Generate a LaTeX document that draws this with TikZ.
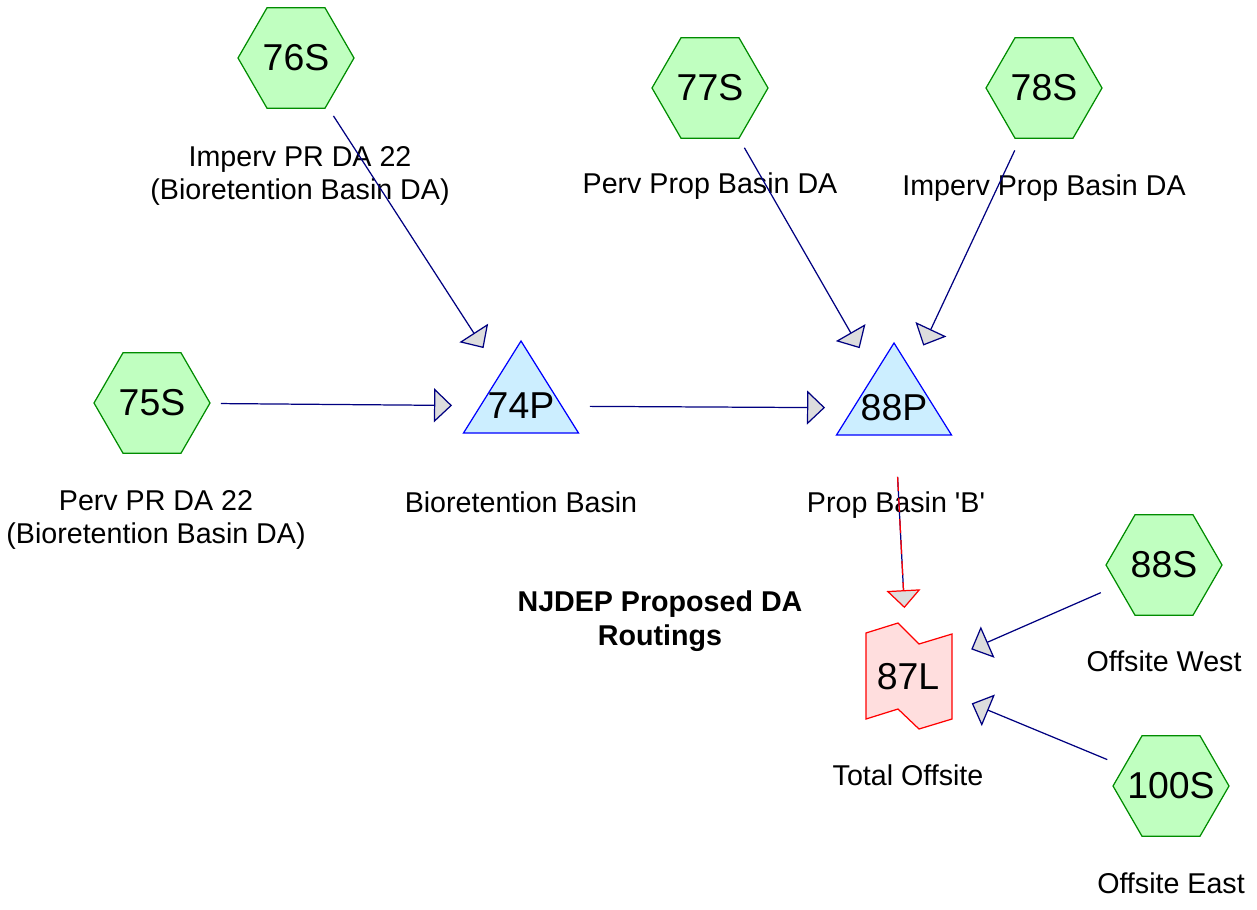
\documentclass[tikz,border=0pt]{standalone}
\usepackage{fontspec}
\setmainfont{Liberation Sans}
\usetikzlibrary{shapes.geometric,arrows.meta}

\definecolor{linknavy}{RGB}{0,0,128}
\definecolor{tipgray}{RGB}{221,221,221}
\definecolor{catgreen}{RGB}{0,140,0}
\definecolor{catfill}{RGB}{192,255,192}
\definecolor{pondblue}{RGB}{0,0,255}
\definecolor{pondfill}{RGB}{204,238,255}
\definecolor{reachred}{RGB}{255,0,0}
\definecolor{reachfill}{RGB}{255,222,222}

\newcommand{\numfont}{\fontsize{21.3}{25}\selectfont}
\newcommand{\labfont}{\fontsize{16.3}{19.3}\selectfont}

\begin{document}
\begin{tikzpicture}[x=0.02cm, y=-0.02cm,
    subcat/.style={regular polygon, regular polygon sides=6, minimum size=2.32cm,
      inner sep=0pt, draw=catgreen, fill=catfill, line width=0.7pt, font=\numfont},
    pondnum/.style={inner sep=0pt, font=\numfont},
    lab/.style={align=center, font=\labfont, inner sep=0pt},
    flow/.style={draw=linknavy, line width=0.7pt, shorten <=1.38cm, shorten >=1.38cm,
      -{Triangle[length=0.36cm, width=0.68cm, fill=tipgray, line width=0.7pt]}}]
  \useasboundingbox (0,0) rectangle (1257,909);

  % Ponds and link (shapes drawn first, text on top)
  \filldraw[draw=pondblue, fill=pondfill, line width=0.7pt]
    (521,341) -- (578.5,433) -- (463.5,433) -- cycle;
  \filldraw[draw=pondblue, fill=pondfill, line width=0.7pt]
    (894,343) -- (951.5,435) -- (836.5,435) -- cycle;
  \filldraw[draw=reachred, fill=reachfill, line width=0.7pt]
    (866,633) -- (898,623) -- (919,644) -- (952,634) -- (952,719)
    -- (919,729) -- (898,709) -- (866,719) -- cycle;

  % Subcatchments
  \node[subcat] (s76) at (296,58) {76S};
  \node[subcat] (s77) at (710,88) {77S};
  \node[subcat] (s78) at (1044,88) {78S};
  \node[subcat] (s75) at (152,403) {75S};
  \node[subcat] (s88) at (1164,565) {88S};
  \node[subcat] (s100) at (1171,786) {\makebox[0pt]{100S}};

  % Ponds and link
  \node[pondnum] (p74) at (521,406) {74P};
  \node[pondnum] (p88) at (894,408) {88P};
  \node[pondnum] (l87) at (908,677) {87L};

  % Labels
  \node[lab] at (300,176) {Imperv PR DA 22\\(Bioretention Basin DA)};
  \node[lab] at (710,186) {Perv Prop Basin DA};
  \node[lab] at (1044,188) {Imperv Prop Basin DA};
  \node[lab] at (156,520) {Perv PR DA 22\\(Bioretention Basin DA)};
  \node[lab] at (521,502) {Bioretention Basin};
  \node[lab] at (896,505) {Prop Basin \textquotesingle B\textquotesingle};
  \node[lab, font=\labfont\bfseries] at (660,621) {NJDEP Proposed DA\\Routings};
  \node[lab] at (1164,661) {Offsite West};
  \node[lab] at (908,775) {Total Offsite};
  \node[lab] at (1171,883) {Offsite East};

  % Routing
  \draw[flow] (s76.center) -- (p74.center);
  \draw[flow] (s75.center) -- (p74.center);
  \draw[flow] (p74.center) -- (p88.center);
  \draw[flow] (s77.center) -- (p88.center);
  \draw[flow] (s78.center) -- (p88.center);
  \draw[flow] (s88.center) -- (l87.center);
  \draw[flow] (s100.center) -- (l87.center);
  \draw[draw=linknavy, line width=0.7pt, shorten <=1.38cm, shorten >=1.74cm]
    (p88.center) -- (l87.center);
  \draw[flow, draw=reachred, dash pattern=on 8pt off 4pt] (p88.center) -- (l87.center);
\end{tikzpicture}
\end{document}
